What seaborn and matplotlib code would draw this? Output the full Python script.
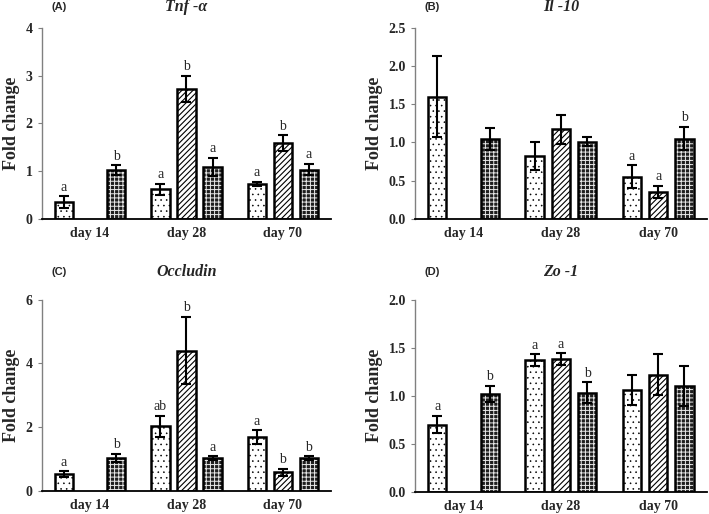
import pandas as pd
import matplotlib
matplotlib.use("Agg")
import matplotlib.pyplot as plt
from matplotlib.ticker import FormatStrFormatter
import seaborn as sns

# Categorias y grupos
days = ["day 14", "day 28", "day 70"]
groups = ["G1", "G2", "G3"]

# Orden de valores: day 14 (G1, G2, G3), day 28 (G1, G2, G3), day 70 (G1, G2, G3)
tnf_mean = [0.35, None, 1.02, 0.62, 2.72, 1.08, 0.73, 1.59, 1.03]
tnf_err = [0.12, None, 0.10, 0.11, 0.27, 0.19, 0.04, 0.16, 0.12]
tnf_letters = ["a", "", "b", "a", "b", "a", "a", "b", "a"]

il10_mean = [1.60, None, 1.045, 0.82, 1.17, 1.01, 0.555, 0.354, 1.05]
il10_err = [0.53, None, 0.145, 0.18, 0.19, 0.06, 0.145, 0.083, 0.15]
il10_letters = ["", "", "", "", "", "", "a", "a", "b"]

occ_mean = [0.52, None, 1.03, 2.02, 4.40, 1.02, 1.68, 0.58, 1.02]
occ_err = [0.09, None, 0.12, 0.34, 1.05, 0.06, 0.22, 0.12, 0.06]
occ_letters = ["a", "", "b", "ab", "b", "a", "a", "b", "b"]

zo1_mean = [0.70, None, 1.02, 1.37, 1.38, 1.03, 1.06, 1.22, 1.10]
zo1_err = [0.09, None, 0.08, 0.06, 0.06, 0.11, 0.16, 0.21, 0.21]
zo1_letters = ["a", "", "b", "a", "a", "b", "", "", ""]

panels = [
    ("(A)", "Tnf -\u03b1", tnf_mean, tnf_err, tnf_letters, 4, [0, 1, 2, 3, 4], "%d"),
    ("(B)", "Il -10", il10_mean, il10_err, il10_letters, 2.5, [0, 0.5, 1.0, 1.5, 2.0, 2.5], "%.1f"),
    ("(C)", "Occludin", occ_mean, occ_err, occ_letters, 6, [0, 2, 4, 6], "%d"),
    ("(D)", "Zo -1", zo1_mean, zo1_err, zo1_letters, 2.0, [0, 0.5, 1.0, 1.5, 2.0], "%.1f"),
]

hatches = ["...", "//////", "++++"]
faces = ["white", "white", "#1e1e1e"]
hatch_lw = [0.4, 0.8, 0.7]

sns.set_style("ticks")
plt.rcParams["font.family"] = ["Liberation Serif", "DejaVu Serif"]
plt.rcParams["hatch.linewidth"] = 0.8

fig = plt.figure(figsize=(7.09, 5.14), dpi=100)
boxes = [
    [0.059, 0.574, 0.408, 0.372],
    [0.585, 0.574, 0.412, 0.372],
    [0.059, 0.045, 0.408, 0.372],
    [0.585, 0.043, 0.412, 0.374],
]
title_y = [0.986, 0.986, 0.471, 0.471]

for box, ty, (tag, title, means, errs, letters, ymax, yticks, fmt) in zip(boxes, title_y, panels):
    ax = fig.add_axes(box)
    rows = []
    for i, m in enumerate(means):
        if m is None:
            continue
        rows.append({"day": days[i // 3], "group": groups[i % 3], "mean": m,
                     "err": errs[i], "letter": letters[i]})
    df = pd.DataFrame(rows)

    sns.barplot(data=df, x="day", y="mean", hue="group", order=days, hue_order=groups,
                palette={g: "white" for g in groups}, width=0.81, gap=0.3,
                errorbar=None, legend=False, edgecolor="black", linewidth=1.8, ax=ax)

    bar_conts = list(ax.containers)
    for gi, cont in enumerate(bar_conts):
        for bar in cont.patches:
            bar.set_facecolor(faces[gi])
            bar.set_hatch(hatches[gi])
            if hasattr(bar, "set_hatch_linewidth"):
                bar.set_hatch_linewidth(hatch_lw[gi])
            if gi == 2:
                # trama clara sobre fondo oscuro
                bar._hatch_color = (1, 1, 1, 0.9)
            xc = bar.get_x() + bar.get_width() / 2
            day = days[int(round(xc))]
            r = df[(df["day"] == day) & (df["group"] == groups[gi])].iloc[0]
            ax.errorbar(xc, r["mean"], yerr=r["err"], fmt="none", ecolor="black",
                        elinewidth=1.5, capsize=3.5, capthick=1.5, zorder=3)
            if r["letter"]:
                ax.annotate(r["letter"], (xc, r["mean"] + r["err"]), xytext=(0, 2),
                            textcoords="offset points", ha="center", va="bottom",
                            fontsize=10)

    ax.set_xlim(-0.5, 2.5)
    ax.set_ylim(0, ymax)
    ax.set_yticks(yticks)
    ax.yaxis.set_major_formatter(FormatStrFormatter(fmt))
    ax.set_xlabel("")
    ax.set_ylabel("Fold change", fontsize=13, fontweight="bold")
    ax.tick_params(axis="x", length=0, pad=6, labelsize=10)
    ax.tick_params(axis="y", length=3, width=0.8, color="#808080", labelsize=10)
    for lab in ax.get_xticklabels() + ax.get_yticklabels():
        lab.set_fontweight("bold")
    sns.despine(ax=ax)
    ax.spines["left"].set_color("#808080")
    ax.spines["left"].set_linewidth(1.0)
    ax.spines["bottom"].set_color("black")
    ax.spines["bottom"].set_linewidth(1.3)

    pos = ax.get_position()
    fig.text((pos.x0 + pos.x1) / 2, ty, title, fontsize=11.5, fontweight="bold",
             fontstyle="italic", ha="center", va="center")
    fig.text(pos.x0 + 0.024, ty, tag, family="Liberation Sans",
             fontweight="bold", fontsize=8, ha="center", va="center")

fig.savefig("out.png", dpi=100)
